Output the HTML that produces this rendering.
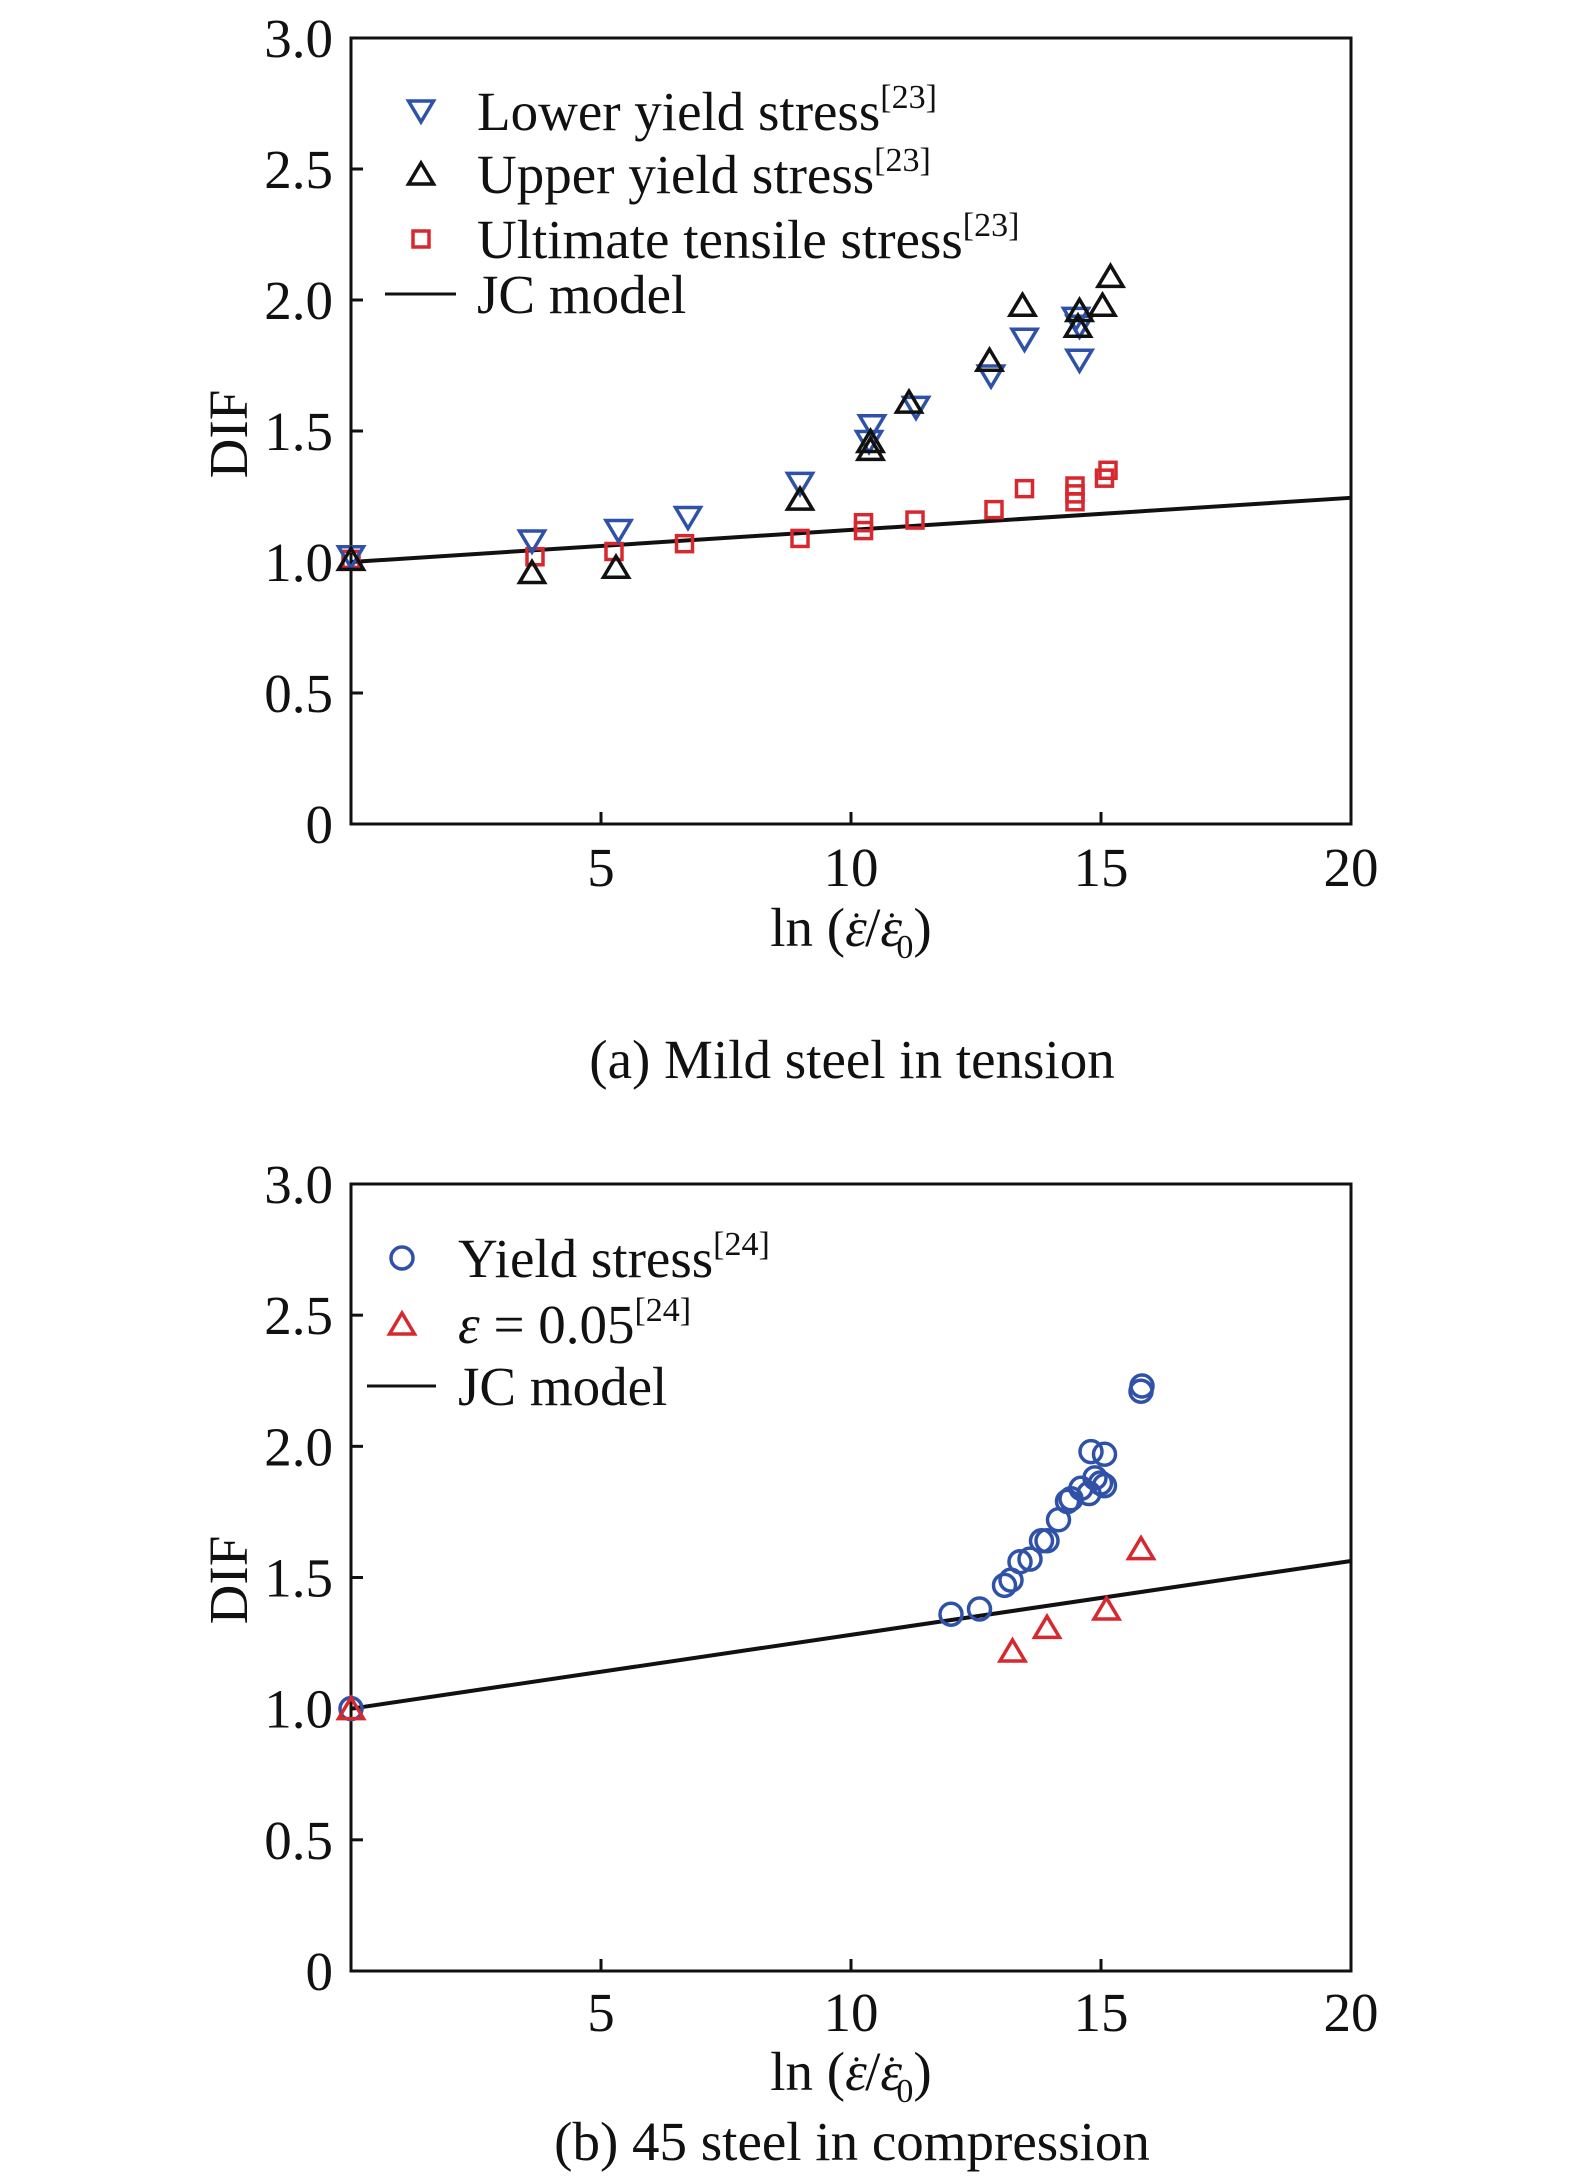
<!DOCTYPE html>
<html><head><meta charset="utf-8"><style>
html,body{margin:0;padding:0;background:#fff;}
svg{display:block;font-family:"Liberation Serif",serif;}
</style></head><body>
<svg id="fig" width="1575" height="2179" viewBox="0 0 1575 2179" xmlns="http://www.w3.org/2000/svg">
<g id="pa"></g>
<g id="pb"></g>
</svg>
<script>
// ---- Data: chart (a) ----
const xTicks = [5, 10, 15, 20];
const yTicks = [0, 0.5, 1.0, 1.5, 2.0, 2.5, 3.0];
const yTickLabels = ["0", "0.5", "1.0", "1.5", "2.0", "2.5", "3.0"];
const aLowerX = [0, 3.62, 5.35, 6.74, 8.98, 10.36, 10.42, 11.3, 12.8, 13.47, 14.57, 14.57, 14.5];
const aLowerY = [1.02, 1.08, 1.12, 1.17, 1.30, 1.46, 1.52, 1.59, 1.71, 1.85, 1.77, 1.90, 1.93];
const aUpperX = [0, 3.62, 5.3, 8.98, 10.39, 10.39, 11.16, 12.77, 13.43, 14.54, 14.57, 15.03, 15.19];
const aUpperY = [1.01, 0.96, 0.98, 1.24, 1.43, 1.46, 1.61, 1.77, 1.98, 1.90, 1.96, 1.98, 2.09];
const aUltX = [0, 3.68, 5.26, 6.67, 8.98, 10.25, 10.25, 11.28, 12.86, 13.47, 14.48, 14.48, 14.48, 15.07, 15.14];
const aUltY = [1.01, 1.02, 1.04, 1.07, 1.09, 1.12, 1.15, 1.16, 1.20, 1.28, 1.23, 1.26, 1.29, 1.32, 1.35];
const aJcX = [0, 20];
const aJcY = [1.0, 1.245];
// ---- Data: chart (b) ----
const bYieldX = [0, 12.0, 12.57, 13.07, 13.2, 13.38, 13.58, 13.81, 13.92, 14.15, 14.33, 14.4, 14.6, 14.76, 14.8, 14.88, 14.99, 15.07, 15.07, 15.8, 15.82];
const bYieldY = [1.00, 1.36, 1.38, 1.47, 1.49, 1.56, 1.57, 1.64, 1.64, 1.72, 1.79, 1.80, 1.84, 1.82, 1.98, 1.88, 1.86, 1.97, 1.85, 2.21, 2.23];
const bStrainX = [0, 13.23, 13.92, 15.11, 15.8];
const bStrainY = [1.0, 1.22, 1.31, 1.38, 1.61];
const bJcX = [0, 20];
const bJcY = [1.0, 1.563];

const NS = "http://www.w3.org/2000/svg";
const BLUE = "#2f52a8", RED = "#d7282f", BLACK = "#111";
const FS = 55;
function mk(parent, tag, attrs, text) {
  const e = document.createElementNS(NS, tag);
  for (const k in attrs) e.setAttribute(k, attrs[k]);
  if (text !== undefined) e.textContent = text;
  parent.appendChild(e);
  return e;
}
function marker(g, type, cx, cy, color) {
  let e;
  if (type === "down") {
    e = mk(g, "path", {d: `M${cx-12.5},${cy-10} L${cx+12.5},${cy-10} L${cx},${cy+11} Z`, fill: "none", stroke: color, "stroke-width": 3.5});
  } else if (type === "up") {
    e = mk(g, "path", {d: `M${cx-12.5},${cy+10} L${cx+12.5},${cy+10} L${cx},${cy-11} Z`, fill: "none", stroke: color, "stroke-width": 3.5});
  } else if (type === "sq") {
    e = mk(g, "rect", {x: cx-8, y: cy-8, width: 16, height: 16, fill: "none", stroke: color, "stroke-width": 3.5});
  } else {
    e = mk(g, "circle", {cx: cx, cy: cy, r: 11, fill: "none", stroke: color, "stroke-width": 3.5});
  }
  return e;
}
function chart(g, top, bottom, series, legend, legendX, textX, lineX1, lineX2, legendYs, tickBase, titleBase, capBase, caption, difY) {
  const L = 351, R = 1351;
  const xs = v => L + (R - L) * v / 20;
  const ys = v => bottom - (bottom - top) * v / 3;
  const frame = mk(g, "rect", {x: L, y: top, width: R - L, height: bottom - top, fill: "none", stroke: "#111", "stroke-width": 3});
  
  
  yTicks.forEach((t, i) => {
    if (i > 0 && i < yTicks.length - 1) {
      const tk = mk(g, "line", {x1: L, x2: L + 12, y1: ys(t), y2: ys(t), stroke: "#111", "stroke-width": 3});
      
      
    }
    const lb = mk(g, "text", {x: 333, y: ys(t) + 19, "text-anchor": "end", "font-size": FS, fill: "#111"}, yTickLabels[i]);
    
    
  });
  xTicks.forEach(t => {
    if (t < 20) {
      const tk = mk(g, "line", {x1: xs(t), x2: xs(t), y1: bottom, y2: bottom - 12, stroke: "#111", "stroke-width": 3});
      
      
    }
    const lb = mk(g, "text", {x: xs(t), y: tickBase, "text-anchor": "middle", "font-size": FS, fill: "#111"}, String(t));
    
    
  });
  const xt = mk(g, "text", {x: 851, y: titleBase, "text-anchor": "middle", "font-size": FS, fill: "#111"});
  
  
  xt.innerHTML = 'ln (<tspan font-style="italic">ε</tspan><tspan dx="-17" dy="-6" font-size="40">˙</tspan><tspan dx="2" dy="6">/</tspan><tspan font-style="italic">ε</tspan><tspan dx="-17" dy="-6" font-size="40">˙</tspan><tspan font-size="34" dx="-2" dy="18">0</tspan><tspan dy="-12">)</tspan>';
  const yt = mk(g, "text", {x: 0, y: 0, "text-anchor": "middle", "font-size": FS, fill: "#111", transform: `translate(247,${difY}) rotate(-90)`}, "DIF");
  
  
  const cap = mk(g, "text", {x: 852, y: capBase, "text-anchor": "middle", "font-size": FS, fill: "#111"}, caption);
  
  
  series.forEach(s => {
    if (s.type === "line") {
      const pl = mk(g, "line", {x1: xs(s.x[0]), y1: ys(s.y[0]), x2: xs(s.x[1]), y2: ys(s.y[1]), stroke: "#111", "stroke-width": 4});
      
      
    } else {
      const sg = mk(g, "g", {});
      
      
      s.x.forEach((v, i) => {
        const m = marker(sg, s.type, xs(v), ys(s.y[i]), s.color);
        
        
      });
    }
  });
  legend.forEach((it, i) => {
    const yy = legendYs[i];
    const lg = mk(g, "g", {});
    
    
    if (it.type === "line") {
      mk(lg, "line", {x1: lineX1, x2: lineX2, y1: yy, y2: yy, stroke: "#111", "stroke-width": 3});
    } else {
      marker(lg, it.type, legendX, yy, it.color);
    }
    const t = mk(lg, "text", {x: textX, y: yy + 19, "font-size": FS, fill: "#111"});
    t.innerHTML = it.label;
  });
}
chart(document.getElementById("pa"), 38, 824,
  [
    {type: "line", x: aJcX, y: aJcY},
    {type: "sq", x: aUltX, y: aUltY, color: RED, name: "ultimate-tensile-series"},
    {type: "down", x: aLowerX, y: aLowerY, color: BLUE, name: "lower-yield-series"},
    {type: "up", x: aUpperX, y: aUpperY, color: BLACK, name: "upper-yield-series"}
  ],
  [
    {type: "down", color: BLUE, label: 'Lower yield stress<tspan font-size="34" dy="-22">[23]</tspan>'},
    {type: "up", color: BLACK, label: 'Upper yield stress<tspan font-size="34" dy="-22">[23]</tspan>'},
    {type: "sq", color: RED, label: 'Ultimate tensile stress<tspan font-size="34" dy="-22">[23]</tspan>'},
    {type: "line", label: 'JC model'}
  ], 421, 477, 385, 456, [111, 174, 239, 294], 886, 946, 1078, "(a) Mild steel in tension", 434);
chart(document.getElementById("pb"), 1184, 1971,
  [
    {type: "line", x: bJcX, y: bJcY},
    {type: "circ", x: bYieldX, y: bYieldY, color: BLUE, name: "yield-stress-series"},
    {type: "up", x: bStrainX, y: bStrainY, color: RED, name: "strain-005-series"}
  ],
  [
    {type: "circ", color: BLUE, label: 'Yield stress<tspan font-size="34" dy="-22">[24]</tspan>'},
    {type: "up", color: RED, label: '<tspan font-style="italic">ε</tspan> = 0.05<tspan font-size="34" dy="-22">[24]</tspan>'},
    {type: "line", label: 'JC model'}
  ], 402, 458, 367, 436, [1258, 1324, 1386], 2031, 2090, 2160, "(b) 45 steel in compression", 1580);
</script>
</body></html>
